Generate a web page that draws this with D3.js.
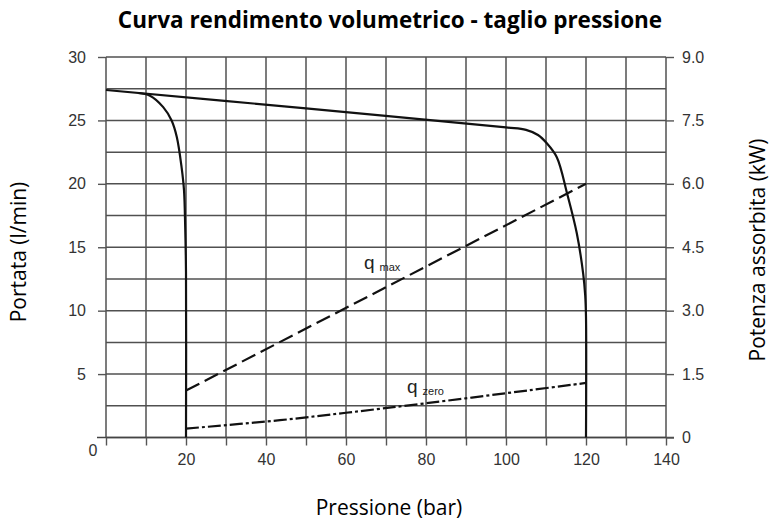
<!DOCTYPE html>
<html>
<head>
<meta charset="utf-8">
<script src="https://cdn.jsdelivr.net/npm/d3@7"></script>
<style>
    body { margin: 0; background: #fff; }
    .tick text { font-family: 'Liberation Sans', Arial, sans-serif; font-size: 16px; fill: #333; }
    .lbl { font-family: 'Open Sans', 'Noto Sans', sans-serif; fill: #000; }
</style>
</head>
<body>
<div id="chart"></div>
<script>
// pressure (bar) vs flow (l/min), power curves in kW on right axis
var xTicks = [20, 40, 60, 80, 100, 120, 140];
var yTicks = [5, 10, 15, 20, 25, 30];
var kwTicks = [0, 1.5, 3.0, 4.5, 6.0, 7.5, 9.0];

// flow curve, pressure cut at 120 bar
var flowCut120 = [
    [0, 27.4], [50, 25.95], [100, 24.45], [105, 24.25], [108, 23.85],
    [110.2, 23.2], [112.7, 22.1], [115.3, 19.2], [117.7, 16.1],
    [119.3, 12.9], [119.8, 11.2], [120, 9.5], [120, 0]
];
// flow curve, pressure cut at 20 bar
var flowCut20 = [
    [8, 27.16], [11, 26.95], [14.3, 26.05], [16.4, 25.0], [17.7, 23.7],
    [18.9, 21.3], [19.5, 19.5], [19.8, 16.6], [20, 13], [20, 0]
];
// absorbed power (kW)
var qMax = [[20, 1.11], [120, 6.0]];
var qZero = [[20, 0.21], [43.5, 0.41], [60, 0.585], [80, 0.81], [106, 1.12], [120, 1.29]];

var W = 775, H = 524;
var margin = { left: 106, right: 110, top: 57, bottom: 87 };

var svg = d3.select('#chart').append('svg')
    .attr('width', W).attr('height', H);

var x = d3.scaleLinear().domain([0, 140]).range([margin.left, W - margin.right + 1]);
var y = d3.scaleLinear().domain([0, 30]).range([H - margin.bottom + 0.5, margin.top]);
var yR = d3.scaleLinear().domain([0, 9]).range(y.range());

// grid
var grid = svg.append('g').attr('stroke', '#505050').attr('stroke-width', 1.5);
grid.selectAll('line.v')
    .data(d3.range(0, 141, 10))
    .enter().append('line')
    .attr('x1', d => x(d)).attr('x2', d => x(d))
    .attr('y1', y(30)).attr('y2', y(0));
grid.selectAll('line.h')
    .data(d3.range(0, 30.1, 2.5))
    .enter().append('line')
    .attr('x1', x(0)).attr('x2', x(140))
    .attr('y1', d => y(d)).attr('y2', d => y(d));

// baseline
svg.append('line')
    .attr('x1', x(0) - 9).attr('x2', x(140) + 8)
    .attr('y1', y(0)).attr('y2', y(0))
    .attr('stroke', '#444').attr('stroke-width', 1.6);

// axes
var axL = svg.append('g')
    .attr('transform', 'translate(' + x(0) + ',0)')
    .call(d3.axisLeft(y).tickValues(yTicks).tickSize(8).tickPadding(12));
var axR = svg.append('g')
    .attr('transform', 'translate(' + x(140) + ',0)')
    .call(d3.axisRight(yR).tickValues(kwTicks).tickSize(8).tickPadding(8)
        .tickFormat(d => d === 0 ? '0' : d3.format('.1f')(d)));
var axB = svg.append('g')
    .attr('transform', 'translate(0,' + y(0) + ')')
    .call(d3.axisBottom(x).tickValues(d3.range(0, 141, 10)).tickSize(8).tickPadding(8)
        .tickFormat(d => xTicks.indexOf(d) >= 0 ? d : ''));
[axL, axR, axB].forEach(a => {
    a.select('.domain').remove();
    a.selectAll('.tick line').attr('stroke', '#555').attr('stroke-width', 1.4);
});

// origin label
svg.append('text')
    .attr('x', x(0) - 13).attr('y', y(0) + 18)
    .attr('text-anchor', 'middle')
    .style('font-family', "'Liberation Sans', Arial, sans-serif")
    .style('font-size', '16px').style('fill', '#333')
    .text('0');

// curves
var line = d3.line().x(d => x(d[0])).y(d => y(d[1])).curve(d3.curveCatmullRom.alpha(0.5));
var lineR = d3.line().x(d => x(d[0])).y(d => yR(d[1]));

svg.append('path').datum(flowCut120)
    .attr('d', line).attr('fill', 'none')
    .attr('stroke', '#111').attr('stroke-width', 2.2);
svg.append('path').datum(flowCut20)
    .attr('d', line).attr('fill', 'none')
    .attr('stroke', '#111').attr('stroke-width', 2.2);
svg.append('path').datum(qMax)
    .attr('d', lineR).attr('fill', 'none')
    .attr('stroke', '#111').attr('stroke-width', 2.2)
    .attr('stroke-dasharray', '15,6');
svg.append('path').datum(qZero)
    .attr('d', lineR.curve(d3.curveCatmullRom)).attr('fill', 'none')
    .attr('stroke', '#111').attr('stroke-width', 2.2)
    .attr('stroke-dasharray', '13,3,3,3');

// curve labels
var qLabel = (px, py, sub) => {
    var t = svg.append('text')
        .attr('x', px).attr('y', py)
        .style('font-family', "'Liberation Sans', Arial, sans-serif")
        .style('font-size', '19px').style('fill', '#222');
    t.append('tspan').text('q');
    t.append('tspan').attr('dx', 5).attr('dy', 2).style('font-size', '11px').text(sub);
};
qLabel(364, 269, 'max');
qLabel(407, 393, 'zero');

// titles
svg.append('text').attr('class', 'lbl')
    .attr('x', 390).attr('y', 28)
    .attr('text-anchor', 'middle')
    .style('font-weight', 'bold').style('font-size', '22.5px')
    .text('Curva rendimento volumetrico - taglio pressione');
svg.append('text').attr('class', 'lbl')
    .attr('x', 389).attr('y', 515)
    .attr('text-anchor', 'middle')
    .style('font-size', '21px')
    .text('Pressione (bar)');
svg.append('text').attr('class', 'lbl')
    .attr('transform', 'translate(26,252) rotate(-90)')
    .attr('text-anchor', 'middle')
    .style('font-size', '21px')
    .text('Portata (l/min)');
svg.append('text').attr('class', 'lbl')
    .attr('transform', 'translate(765,250) rotate(-90)')
    .attr('text-anchor', 'middle')
    .style('font-size', '21px')
    .text('Potenza assorbita (kW)');
</script>
</body>
</html>
